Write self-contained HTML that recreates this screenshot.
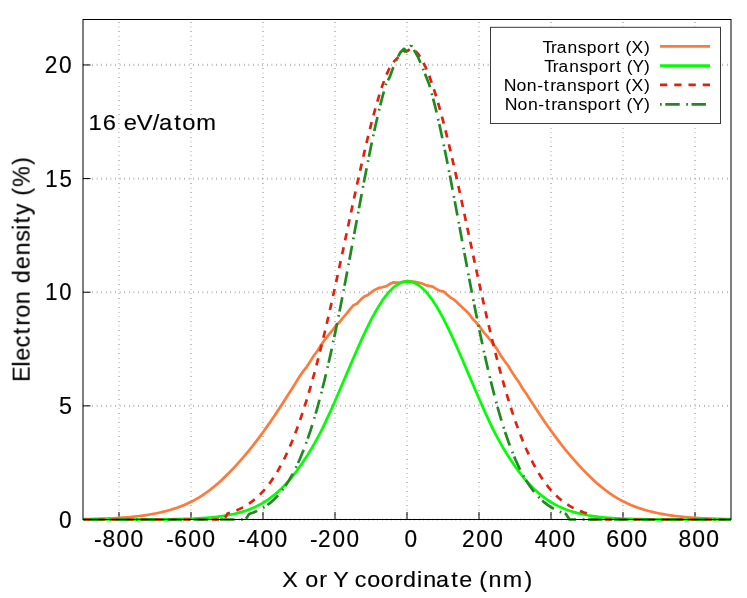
<!DOCTYPE html>
<html><head><meta charset="utf-8"><title>chart</title>
<style>html,body{margin:0;padding:0;background:#fff;}svg{display:block;}</style></head>
<body>
<svg width="747" height="598" viewBox="0 0 747 598">
<rect width="747" height="598" fill="#fff"/>
<path d="M119.00,519.50 V19.50 M191.00,519.50 V19.50 M263.00,519.50 V19.50 M335.00,519.50 V19.50 M407.00,519.50 V19.50 M479.00,519.50 V19.50 M551.00,519.50 V19.50 M623.00,519.50 V19.50 M695.00,519.50 V19.50" stroke="#959595" stroke-width="1.6" stroke-dasharray="0.6,4" fill="none"/>
<path d="M83.00,519.50 H731.00 M83.00,405.86 H731.00 M83.00,292.23 H731.00 M83.00,178.59 H731.00 M83.00,64.95 H731.00" stroke="#909090" stroke-width="2.2" stroke-dasharray="0.6,4" fill="none"/>
<path d="M119.00,519.50 v-7.5 M191.00,519.50 v-7.5 M263.00,519.50 v-7.5 M335.00,519.50 v-7.5 M407.00,519.50 v-7.5 M479.00,519.50 v-7.5 M551.00,519.50 v-7.5 M623.00,519.50 v-7.5 M695.00,519.50 v-7.5 M83.00,519.50 h7.5 M83.00,405.86 h7.5 M83.00,292.23 h7.5 M83.00,178.59 h7.5 M83.00,64.95 h7.5" stroke="#000" stroke-width="1" fill="none"/>
<clipPath id="cp"><rect x="83.00" y="17.50" width="648.00" height="504.00"/></clipPath>
<g fill="none" stroke-width="2.70" stroke-linejoin="round" clip-path="url(#cp)">
<path d="M83.54,519.14 L87.14,519.08 L90.74,519.00 L94.34,518.92 L97.94,518.82 L101.54,518.70 L105.14,518.57 L108.74,518.42 L112.34,518.25 L115.94,518.06 L119.54,517.84 L123.14,517.59 L126.74,517.31 L130.34,517.00 L133.94,516.65 L137.54,516.25 L141.14,515.81 L144.74,515.32 L148.34,514.77 L151.94,514.16 L155.54,513.49 L159.14,512.74 L162.74,511.91 L166.34,511.00 L169.94,510.00 L173.54,508.89 L177.14,507.68 L180.74,506.36 L184.34,504.91 L187.94,503.32 L191.54,501.59 L195.14,499.69 L198.74,497.62 L202.34,495.36 L205.94,492.91 L209.54,490.26 L213.14,487.42 L216.74,484.39 L220.34,481.18 L223.94,477.81 L227.54,474.29 L231.14,470.62 L234.74,466.82 L238.34,462.89 L241.94,458.82 L245.54,454.62 L249.14,450.28 L252.74,445.80 L256.34,441.16 L259.94,436.39 L263.54,431.46 L267.14,426.40 L270.74,421.21 L274.34,415.89 L277.94,410.48 L281.54,404.99 L285.14,399.43 L288.74,393.84 L292.34,388.21 L295.94,382.40 L299.54,376.50 L303.14,371.37 L306.74,366.81 L310.34,361.11 L313.94,355.46 L317.54,350.79 L321.14,344.74 L324.74,339.83 L328.34,335.15 L331.94,330.99 L335.54,325.96 L339.14,322.56 L342.74,318.11 L346.34,313.88 L349.94,309.33 L353.54,305.21 L357.14,303.50 L360.74,299.63 L364.34,296.47 L367.94,294.92 L371.54,291.95 L375.14,289.65 L378.74,287.91 L382.34,287.23 L385.94,286.30 L389.54,284.10 L393.14,282.47 L396.74,282.61 L400.34,282.35 L403.94,281.70 L407.54,281.13 L411.14,281.42 L414.74,281.79 L418.34,282.63 L421.94,283.56 L425.54,285.09 L429.14,285.91 L432.74,286.57 L436.34,289.00 L439.94,290.91 L443.54,291.45 L447.14,294.76 L450.74,297.59 L454.34,299.79 L457.94,303.36 L461.54,306.71 L465.14,310.04 L468.74,313.47 L472.34,318.52 L475.94,322.16 L479.54,326.47 L483.14,331.56 L486.74,335.57 L490.34,340.29 L493.94,344.93 L497.54,349.83 L501.14,356.10 L504.74,361.22 L508.34,365.98 L511.94,372.12 L515.54,377.49 L519.14,382.56 L522.74,388.70 L526.34,393.84 L529.94,399.43 L533.54,404.99 L537.14,410.48 L540.74,415.89 L544.34,421.21 L547.94,426.40 L551.54,431.46 L555.14,436.39 L558.74,441.16 L562.34,445.80 L565.94,450.28 L569.54,454.62 L573.14,458.82 L576.74,462.89 L580.34,466.82 L583.94,470.62 L587.54,474.29 L591.14,477.81 L594.74,481.18 L598.34,484.39 L601.94,487.42 L605.54,490.26 L609.14,492.91 L612.74,495.36 L616.34,497.62 L619.94,499.69 L623.54,501.59 L627.14,503.32 L630.74,504.91 L634.34,506.36 L637.94,507.68 L641.54,508.89 L645.14,510.00 L648.74,511.00 L652.34,511.91 L655.94,512.74 L659.54,513.49 L663.14,514.16 L666.74,514.77 L670.34,515.32 L673.94,515.81 L677.54,516.25 L681.14,516.65 L684.74,517.00 L688.34,517.31 L691.94,517.59 L695.54,517.84 L699.14,518.06 L702.74,518.25 L706.34,518.42 L709.94,518.57 L713.54,518.70 L717.14,518.82 L720.74,518.92 L724.34,519.00 L727.94,519.08 L731.54,519.14" stroke="#ff7a3a"/>
<path d="M83.54,519.50 L87.14,519.50 L90.74,519.50 L94.34,519.50 L97.94,519.50 L101.54,519.50 L105.14,519.50 L108.74,519.50 L112.34,519.49 L115.94,519.49 L119.54,519.49 L123.14,519.49 L126.74,519.48 L130.34,519.48 L133.94,519.47 L137.54,519.47 L141.14,519.46 L144.74,519.45 L148.34,519.44 L151.94,519.42 L155.54,519.40 L159.14,519.38 L162.74,519.35 L166.34,519.31 L169.94,519.27 L173.54,519.21 L177.14,519.15 L180.74,519.07 L184.34,518.97 L187.94,518.86 L191.54,518.73 L195.14,518.57 L198.74,518.38 L202.34,518.16 L205.94,517.89 L209.54,517.59 L213.14,517.23 L216.74,516.81 L220.34,516.32 L223.94,515.80 L227.54,515.21 L231.14,514.53 L234.74,513.76 L238.34,512.88 L241.94,511.89 L245.54,510.77 L249.14,509.48 L252.74,508.02 L256.34,506.39 L259.94,504.57 L263.54,502.54 L267.14,500.24 L270.74,497.68 L274.34,494.86 L277.94,491.76 L281.54,488.37 L285.14,484.74 L288.74,480.80 L292.34,476.54 L295.94,471.94 L299.54,467.00 L303.14,461.85 L306.74,456.36 L310.34,450.52 L313.94,444.36 L317.54,437.87 L321.14,431.06 L324.74,423.61 L328.34,415.90 L331.94,407.94 L335.54,399.79 L339.14,391.49 L342.74,383.08 L346.34,374.61 L349.94,366.15 L353.54,357.75 L357.14,349.48 L360.74,341.40 L364.34,333.57 L367.94,326.07 L371.54,318.96 L375.14,312.29 L378.74,306.15 L382.34,300.57 L385.94,295.62 L389.54,291.34 L393.14,287.78 L396.74,284.98 L400.34,282.95 L403.94,281.73 L407.54,281.32 L411.14,281.73 L414.74,282.95 L418.34,284.98 L421.94,287.78 L425.54,291.34 L429.14,295.62 L432.74,300.57 L436.34,306.15 L439.94,312.29 L443.54,318.96 L447.14,326.07 L450.74,333.57 L454.34,341.40 L457.94,349.48 L461.54,357.75 L465.14,366.15 L468.74,374.61 L472.34,383.08 L475.94,391.49 L479.54,399.79 L483.14,407.94 L486.74,415.90 L490.34,423.61 L493.94,431.06 L497.54,437.87 L501.14,444.36 L504.74,450.52 L508.34,456.36 L511.94,461.85 L515.54,467.00 L519.14,471.94 L522.74,476.54 L526.34,480.80 L529.94,484.74 L533.54,488.37 L537.14,491.76 L540.74,494.86 L544.34,497.68 L547.94,500.24 L551.54,502.54 L555.14,504.57 L558.74,506.39 L562.34,508.02 L565.94,509.48 L569.54,510.77 L573.14,511.89 L576.74,512.88 L580.34,513.76 L583.94,514.53 L587.54,515.21 L591.14,515.80 L594.74,516.32 L598.34,516.81 L601.94,517.23 L605.54,517.59 L609.14,517.89 L612.74,518.16 L616.34,518.38 L619.94,518.57 L623.54,518.73 L627.14,518.86 L630.74,518.97 L634.34,519.07 L637.94,519.15 L641.54,519.21 L645.14,519.27 L648.74,519.31 L652.34,519.35 L655.94,519.38 L659.54,519.40 L663.14,519.42 L666.74,519.44 L670.34,519.45 L673.94,519.46 L677.54,519.47 L681.14,519.47 L684.74,519.48 L688.34,519.48 L691.94,519.49 L695.54,519.49 L699.14,519.49 L702.74,519.49 L706.34,519.50 L709.94,519.50 L713.54,519.50 L717.14,519.50 L720.74,519.50 L724.34,519.50 L727.94,519.50 L731.54,519.50" stroke="#00ff00"/>
<path d="M83.54,519.50 L87.14,519.50 L90.74,519.50 L94.34,519.50 L97.94,519.50 L101.54,519.50 L105.14,519.50 L108.74,519.50 L112.34,519.50 L115.94,519.50 L119.54,519.50 L123.14,519.50 L126.74,519.50 L130.34,519.50 L133.94,519.50 L137.54,519.50 L141.14,519.50 L144.74,519.50 L148.34,519.50 L151.94,519.50 L155.54,519.50 L159.14,519.50 L162.74,519.50 L166.34,519.50 L169.94,519.50 L173.54,519.50 L177.14,519.50 L180.74,519.50 L184.34,519.50 L187.94,519.50 L191.54,519.50 L195.14,519.50 L198.74,519.50 L202.34,519.50 L205.94,519.50 L209.54,519.50 L213.14,519.50 L216.74,519.50 L220.34,519.50 L223.94,519.50 L227.54,513.56 L231.14,512.43 L234.74,511.13 L238.34,509.61 L241.94,507.86 L245.54,505.85 L249.14,503.55 L252.74,500.93 L256.34,497.95 L259.94,494.58 L263.54,490.78 L267.14,486.52 L270.74,481.76 L274.34,476.47 L277.94,470.60 L281.54,464.13 L285.14,457.02 L288.74,449.25 L292.34,440.78 L295.94,431.60 L299.54,421.70 L303.14,411.06 L306.74,399.68 L310.34,387.57 L313.94,374.74 L317.54,361.22 L321.14,347.04 L324.74,332.25 L328.34,316.90 L331.94,301.07 L335.54,284.81 L339.14,268.23 L342.74,251.41 L346.34,234.47 L349.94,217.52 L353.54,200.68 L357.14,184.08 L360.74,167.84 L364.34,152.11 L367.94,137.01 L371.54,122.69 L375.14,109.27 L378.74,96.88 L382.34,85.67 L385.94,75.89 L389.54,68.00 L393.14,62.42 L396.74,58.65 L400.34,55.19 L403.94,51.32 L407.54,50.86 L411.14,48.23 L414.74,50.21 L418.34,54.18 L421.94,59.83 L425.54,67.02 L429.14,75.65 L432.74,85.63 L436.34,96.88 L439.94,109.27 L443.54,122.69 L447.14,137.01 L450.74,152.11 L454.34,167.84 L457.94,184.08 L461.54,200.68 L465.14,217.52 L468.74,234.47 L472.34,251.41 L475.94,268.23 L479.54,284.81 L483.14,301.07 L486.74,316.90 L490.34,332.25 L493.94,347.04 L497.54,361.22 L501.14,374.74 L504.74,387.57 L508.34,399.68 L511.94,411.06 L515.54,421.70 L519.14,431.60 L522.74,440.78 L526.34,449.25 L529.94,457.02 L533.54,464.13 L537.14,470.60 L540.74,476.47 L544.34,481.76 L547.94,486.52 L551.54,490.78 L555.14,494.58 L558.74,497.95 L562.34,500.93 L565.94,503.55 L569.54,505.85 L573.14,507.86 L576.74,509.61 L580.34,511.13 L583.94,512.43 L587.54,513.56 L591.14,519.50 L594.74,519.50 L598.34,519.50 L601.94,519.50 L605.54,519.50 L609.14,519.50 L612.74,519.50 L616.34,519.50 L619.94,519.50 L623.54,519.50 L627.14,519.50 L630.74,519.50 L634.34,519.50 L637.94,519.50 L641.54,519.50 L645.14,519.50 L648.74,519.50 L652.34,519.50 L655.94,519.50 L659.54,519.50 L663.14,519.50 L666.74,519.50 L670.34,519.50 L673.94,519.50 L677.54,519.50 L681.14,519.50 L684.74,519.50 L688.34,519.50 L691.94,519.50 L695.54,519.50 L699.14,519.50 L702.74,519.50 L706.34,519.50 L709.94,519.50 L713.54,519.50 L717.14,519.50 L720.74,519.50 L724.34,519.50 L727.94,519.50 L731.54,519.50" stroke="#e3200e" stroke-dasharray="7.3,6.95"/>
<path d="M83.54,519.50 L87.14,519.50 L90.74,519.50 L94.34,519.50 L97.94,519.50 L101.54,519.50 L105.14,519.50 L108.74,519.50 L112.34,519.50 L115.94,519.50 L119.54,519.50 L123.14,519.50 L126.74,519.50 L130.34,519.50 L133.94,519.50 L137.54,519.50 L141.14,519.50 L144.74,519.50 L148.34,519.50 L151.94,519.50 L155.54,519.50 L159.14,519.50 L162.74,519.50 L166.34,519.50 L169.94,519.50 L173.54,519.50 L177.14,519.50 L180.74,519.50 L184.34,519.50 L187.94,519.50 L191.54,519.50 L195.14,519.50 L198.74,519.50 L202.34,519.50 L205.94,519.50 L209.54,519.50 L213.14,519.50 L216.74,519.50 L220.34,519.50 L223.94,519.50 L227.54,519.50 L231.14,519.50 L234.74,519.50 L238.34,519.50 L241.94,519.50 L245.54,519.50 L249.14,513.98 L252.74,512.75 L256.34,511.30 L259.94,509.57 L263.54,507.54 L267.14,505.16 L270.74,502.39 L274.34,499.17 L277.94,495.45 L281.54,491.19 L285.14,486.32 L288.74,480.80 L292.34,474.57 L295.94,467.57 L299.54,459.75 L303.14,451.07 L306.74,441.50 L310.34,430.99 L313.94,419.52 L317.54,407.09 L321.14,393.69 L324.74,379.34 L328.34,364.07 L331.94,347.93 L335.54,330.97 L339.14,313.29 L342.74,294.99 L346.34,276.19 L349.94,257.02 L353.54,237.64 L357.14,218.21 L360.74,198.92 L364.34,179.96 L367.94,161.53 L371.54,143.83 L375.14,127.07 L378.74,111.43 L382.34,97.12 L385.94,84.31 L389.54,77.45 L393.14,67.68 L396.74,59.27 L400.34,52.45 L403.94,48.82 L407.54,52.23 L411.14,45.18" stroke="#1f8a1f" stroke-dasharray="1.7,3.6,14.4,6.55"/>
<path d="M411.14,45.18 L414.74,51.32 L418.34,57.68 L421.94,66.09 L425.54,75.18 L429.14,84.31 L432.74,97.12 L436.34,111.43 L439.94,127.07 L443.54,143.83 L447.14,161.53 L450.74,179.96 L454.34,198.92 L457.94,218.21 L461.54,237.64 L465.14,257.02 L468.74,276.19 L472.34,294.99 L475.94,313.29 L479.54,330.97 L483.14,347.93 L486.74,364.07 L490.34,379.34 L493.94,393.69 L497.54,407.09 L501.14,419.52 L504.74,430.99 L508.34,441.50 L511.94,451.07 L515.54,459.75 L519.14,467.57 L522.74,474.57 L526.34,480.80 L529.94,486.32 L533.54,491.19 L537.14,495.45 L540.74,499.17 L544.34,502.39 L547.94,505.16 L551.54,507.54 L555.14,509.57 L558.74,511.30 L562.34,512.75 L565.94,513.98 L569.54,519.50 L573.14,519.50 L576.74,519.50 L580.34,519.50 L583.94,519.50 L587.54,519.50 L591.14,519.50 L594.74,519.50 L598.34,519.50 L601.94,519.50 L605.54,519.50 L609.14,519.50 L612.74,519.50 L616.34,519.50 L619.94,519.50 L623.54,519.50 L627.14,519.50 L630.74,519.50 L634.34,519.50 L637.94,519.50 L641.54,519.50 L645.14,519.50 L648.74,519.50 L652.34,519.50 L655.94,519.50 L659.54,519.50 L663.14,519.50 L666.74,519.50 L670.34,519.50 L673.94,519.50 L677.54,519.50 L681.14,519.50 L684.74,519.50 L688.34,519.50 L691.94,519.50 L695.54,519.50 L699.14,519.50 L702.74,519.50 L706.34,519.50 L709.94,519.50 L713.54,519.50 L717.14,519.50 L720.74,519.50 L724.34,519.50 L727.94,519.50 L731.54,519.50" stroke="#1f8a1f" stroke-dasharray="1.7,3.6,14.4,6.55" stroke-dashoffset="26.08"/>
</g>
<rect x="83.00" y="19.50" width="648.00" height="500.00" fill="none" stroke="#000" stroke-width="1"/>
<rect x="490.5" y="27.3" width="230" height="96.2" fill="#fff" stroke="#3a3a3a" stroke-width="1"/>
<path d="M660,46.4 H710" stroke="#ff7a3a" stroke-width="2.70" fill="none" />
<path d="M660,65.6 H710" stroke="#00ff00" stroke-width="2.70" fill="none" />
<path d="M660,84.8 H710" stroke="#e3200e" stroke-width="2.70" fill="none" stroke-dasharray="7.3,6.95"/>
<path d="M660,104.3 H710" stroke="#1f8a1f" stroke-width="2.70" fill="none" stroke-dasharray="1.7,3.6,14.4,6.55"/>
<g font-family="Liberation Sans, sans-serif" fill="#000" stroke="#000" stroke-width="0.18" style="opacity:0.999">
<text font-size="17.00" stroke-width="0.05" transform="translate(542.40,52.50) scale(1.0277,1.0139)" x="-0.03 8.41 13.93 24.55 34.53 43.24 53.21 63.50 70.16 75.71 80.78 86.79 98.87" y="0">Transport (X)</text>
<text font-size="17.00" stroke-width="0.05" transform="translate(544.30,71.70) scale(1.0211,1.0074)" x="-0.03 8.41 13.93 24.55 34.53 43.24 53.21 63.50 70.16 75.71 80.78 86.29 97.67" y="0">Transport (Y)</text>
<text font-size="17.00" stroke-width="0.05" transform="translate(505.40,90.90) scale(1.0373,1.0216)" x="-1.59 10.75 20.69 30.60 37.04 43.29 48.79 59.39 69.36 78.05 88.01 98.28 104.93 110.48 115.53 121.53 133.59" y="0">Non-transport (X)</text>
<text font-size="17.00" stroke-width="0.05" transform="translate(506.40,110.10) scale(1.0390,1.0233)" x="-1.59 10.75 20.69 30.60 37.04 43.29 48.79 59.39 69.36 78.05 88.01 98.28 104.93 110.48 115.53 121.03 132.40" y="0">Non-transport (Y)</text>
<text font-size="22.66" transform="translate(94.86,547.10) scale(1.0060,1.0360)" x="-0.81 7.68 21.42 35.34" y="0">-800</text>
<text font-size="22.66" transform="translate(166.86,547.10) scale(1.0150,1.0360)" x="-0.84 7.38 21.18 34.97" y="0">-600</text>
<text font-size="22.66" transform="translate(238.86,547.10) scale(1.0054,1.0360)" x="-0.81 7.69 21.44 35.37" y="0">-400</text>
<text font-size="22.66" transform="translate(310.86,547.10) scale(0.9975,1.0360)" x="-0.79 7.28 21.66 35.70" y="0">-200</text>
<text font-size="22.66" transform="translate(405.10,547.10) scale(1.0000,1.0343)" x="-0.71" y="0">0</text>
<text font-size="22.66" transform="translate(463.10,547.10) scale(1.0017,1.0354)" x="-1.05 13.26 27.23" y="0">200</text>
<text font-size="22.66" transform="translate(535.10,547.10) scale(1.0020,1.0264)" x="-0.25 13.42 27.27" y="0">400</text>
<text font-size="22.66" transform="translate(607.10,547.10) scale(1.0223,1.0354)" x="-0.83 12.86 26.55" y="0">600</text>
<text font-size="22.66" transform="translate(679.10,547.10) scale(1.0115,1.0354)" x="-0.59 13.07 26.90" y="0">800</text>
<text font-size="22.66" transform="translate(59.77,527.50) scale(1.0000,1.0343)" x="-0.71" y="0">0</text>
<text font-size="22.66" transform="translate(59.77,413.86) scale(1.0323,1.0444)" x="-0.71" y="0">5</text>
<text font-size="22.66" transform="translate(46.78,300.23) scale(0.9713,1.0360)" x="-1.59 12.82" y="0">10</text>
<text font-size="22.66" transform="translate(46.78,186.59) scale(0.9852,1.0290)" x="-1.59 12.82" y="0">15</text>
<text font-size="22.66" transform="translate(45.77,72.95) scale(1.0018,1.0352)" x="-1.06 13.25" y="0">20</text>
<text font-size="22.66" transform="translate(283.05,587.10) scale(1.0276,1.0140)" x="-0.74 14.36 21.51 35.23 43.11 48.85 63.03 69.87 81.98 95.10 108.82 116.67 130.48 136.39 148.96 163.63 171.38 184.24 190.99 199.92 213.84 234.91" y="0">X or Y coordinate (nm)</text>
<text font-size="22.66" transform="translate(90.56,130.10) scale(1.0460,1.0004)" x="-1.91 11.60 24.68 31.70 44.16 59.46 65.55 80.11 87.74 101.17" y="0">16 eV/atom</text>
<text font-size="22.66" transform="translate(30.00,379.10) rotate(-90) translate(0.00,0) scale(1.0234,1.0160)" x="-2.74 12.17 17.98 30.94 43.77 52.17 59.98 73.34 86.47 93.72 107.41 120.84 134.22 145.78 152.24 160.25 172.44 179.27 187.91 209.25" y="0">Electron density (%)</text>
</g>
</svg>
</body></html>
